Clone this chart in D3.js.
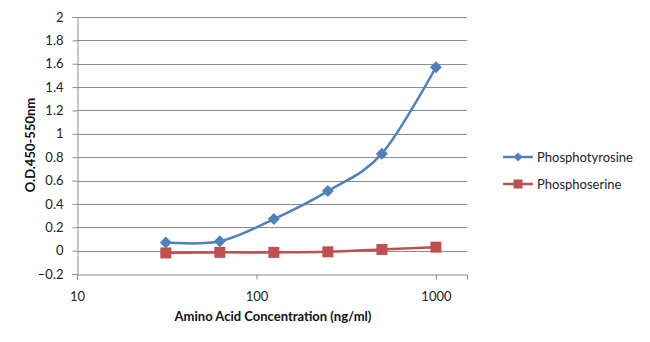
<!DOCTYPE html>
<html>
<head>
<meta charset="utf-8">
<script src="https://cdn.jsdelivr.net/npm/d3@7"></script>
<style>
  html, body { margin: 0; padding: 0; background: #fff; }
  svg { display: block; font-family: Lato, "Open Sans", sans-serif; }
</style>
</head>
<body>
<svg id="chart" width="650" height="342"></svg>
<script>
// Concentrations (ng/ml) and measured optical density per phospho amino acid
const concentrations = [31.25, 62.5, 125, 250, 500, 1000];
const phosphotyrosine = [0.07, 0.08, 0.27, 0.51, 0.83, 1.57];
const phosphoserine = [-0.02, -0.015, -0.015, -0.01, 0.01, 0.03];
const yTicks = [-0.2, 0, 0.2, 0.4, 0.6, 0.8, 1, 1.2, 1.4, 1.6, 1.8, 2];
const xTicks = [10, 100, 1000];
const seriesNames = ["Phosphotyrosine", "Phosphoserine"];

(function draw() {
  const colors = ["#4F81BD", "#C0504D"];
  const svg = d3.select("#chart");

  const plotLeft = 77, plotRight = 467, plotTop = 17, plotBottom = 274;
  const x = d3.scaleLog().domain([10, 1490]).range([plotLeft, plotRight]);
  const y = d3.scaleLinear().domain([-0.2, 2]).range([plotBottom, plotTop]);

  // horizontal gridlines
  svg.append("g").selectAll("line").data(yTicks.filter(d => d > -0.2)).join("line")
    .attr("x1", plotLeft).attr("x2", plotRight)
    .attr("y1", d => Math.round(y(d)) + 0.5).attr("y2", d => Math.round(y(d)) + 0.5)
    .attr("stroke", "#8c8c8c").attr("stroke-width", 1);

  // y axis
  const yAxis = svg.append("g").attr("transform", `translate(${plotLeft + 0.5},0)`)
    .call(d3.axisLeft(y).tickValues(yTicks).tickSize(5).tickPadding(9)
      .tickFormat(d => d3.format("~g")(d)));
  yAxis.select(".domain").attr("stroke", "#8c8c8c");
  yAxis.selectAll(".tick line").attr("stroke", "#8c8c8c");
  yAxis.selectAll(".tick text").attr("font-size", 13).attr("fill", "#222")
    .attr("font-family", "Lato, sans-serif");

  // x axis (log)
  const xAxis = svg.append("g").attr("transform", `translate(0,${plotBottom + 0.5})`)
    .call(d3.axisBottom(x).tickValues(xTicks).tickSize(5).tickPadding(12)
      .tickFormat(d3.format("d")));
  xAxis.select(".domain").attr("stroke", "#8c8c8c");
  xAxis.selectAll(".tick line").attr("stroke", "#8c8c8c");
  xAxis.selectAll(".tick text").attr("font-size", 13).attr("fill", "#222")
    .attr("font-family", "Lato, sans-serif");

  // axis titles
  svg.append("text")
    .attr("transform", "translate(35,145) rotate(-90)")
    .attr("text-anchor", "middle")
    .attr("font-size", 13).attr("font-weight", "bold").attr("fill", "#111")
    .text("O.D.450-550nm");
  svg.append("text")
    .attr("x", 273).attr("y", 321)
    .attr("text-anchor", "middle")
    .attr("font-size", 13).attr("font-weight", "bold").attr("fill", "#111")
    .text("Amino Acid Concentration (ng/ml)");

  // series
  const series = [phosphotyrosine, phosphoserine];
  const line = d3.line()
    .x(d => x(d[0])).y(d => y(d[1]))
    .curve(d3.curveCardinal.tension(0));

  const diamond = s => `M0,${-s}L${s},0L0,${s}L${-s},0Z`;
  const square = s => `M${-s},${-s}H${s}V${s}H${-s}Z`;
  const markers = [diamond(6), square(5.5)];

  series.forEach((vals, i) => {
    const pts = concentrations.map((c, j) => [c, vals[j]]);
    svg.append("path").datum(pts)
      .attr("d", line).attr("fill", "none")
      .attr("stroke", colors[i]).attr("stroke-width", 2.5);
    svg.append("g").selectAll("path").data(pts).join("path")
      .attr("transform", d => `translate(${x(d[0])},${y(d[1])})`)
      .attr("d", markers[i]).attr("fill", colors[i]);
  });

  // legend
  const legend = svg.append("g");
  seriesNames.forEach((name, i) => {
    const ly = 157 + i * 27;
    legend.append("line").attr("x1", 503).attr("x2", 533)
      .attr("y1", ly).attr("y2", ly)
      .attr("stroke", colors[i]).attr("stroke-width", 2.5);
    legend.append("path").attr("transform", `translate(518,${ly})`)
      .attr("d", i === 0 ? diamond(4.5) : square(4.5)).attr("fill", colors[i]);
    legend.append("text").attr("x", 537).attr("y", ly).attr("dy", "0.35em")
      .attr("font-size", 13).attr("fill", "#222").text(name);
  });
})();
</script>
</body>
</html>
